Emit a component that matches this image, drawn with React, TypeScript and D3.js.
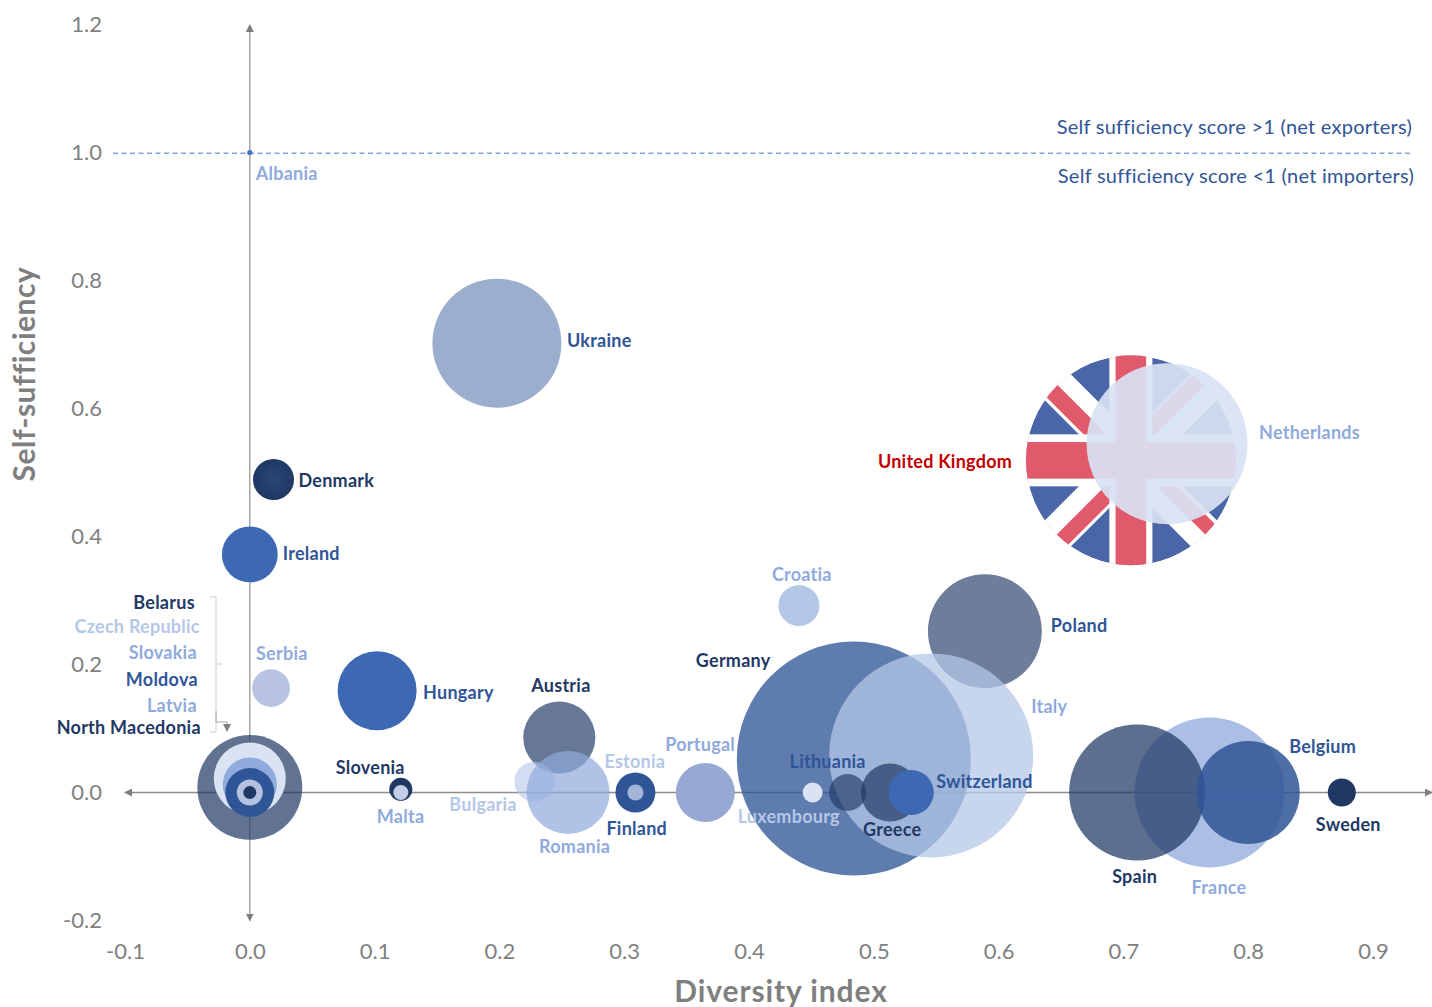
import React, { useEffect, useRef } from "react";
import * as d3 from "d3";

// Values, in drawing order (back to front)
const countries = [
  "Ukraine", "United Kingdom", "Netherlands", "Denmark", "Ireland", "Serbia", "Hungary", "Austria",
  "Croatia", "Poland", "Germany", "Italy", "Luxembourg", "Lithuania", "Greece", "Switzerland",
  "France", "Spain", "Belgium", "Sweden", "Portugal", "Finland", "Estonia", "Bulgaria", "Romania",
  "Slovenia", "Malta", "Belarus", "Czech Republic", "Slovakia", "Moldova", "Latvia", "North Macedonia", "Albania",
];
const diversity = [
  0.198, 0.706, 0.735, 0.019, 0, 0.017, 0.102, 0.248,
  0.44, 0.589, 0.484, 0.546, 0.451, 0.479, 0.513, 0.53,
  0.769, 0.711, 0.8, 0.875, 0.365, 0.309, 0.309, 0.228, 0.255,
  0.121, 0.121, 0, 0, 0, 0, 0, 0, 0,
];
const selfSufficiency = [
  0.702, 0.519, 0.545, 0.489, 0.372, 0.163, 0.159, 0.086,
  0.292, 0.252, 0.053, 0.058, 0, 0, 0, 0,
  0, 0, 0, 0, 0, 0, 0, 0.017, 0,
  0.005, 0, 0.008, 0.022, 0.0125, 0, 0, 0, 1,
];
const production = [
  30.4, 80.5, 47.3, 3.07, 5.7, 2.6, 11.4, 9.5,
  3.07, 23.7, 100, 76, 0.73, 2.5, 6.14, 3.7,
  41.1, 33.8, 19.4, 1.43, 6.36, 2.92, 0.47, 2.92, 12.6,
  0.97, 0.41, 20.1, 9.47, 5.33, 4.38, 1.23, 0.31, 0.05,
];
const xTicks = [-0.1, 0, 0.1, 0.2, 0.3, 0.4, 0.5, 0.6, 0.7, 0.8, 0.9];
const yTicks = [-0.2, 0, 0.2, 0.4, 0.6, 0.8, 1.0, 1.2];

const fills: Record<string, [string, number]> = {
  Ukraine: ["#2f5597", 0.476],
  Netherlands: ["#d8e2f3", 0.92],
  Denmark: ["url(#denmarkFill)", 1],
  Ireland: ["#3d68b3", 1],
  Serbia: ["#b7c3e0", 1],
  Hungary: ["#3d68b3", 1],
  Austria: ["#1f3864", 0.68],
  Croatia: ["#b4c7e7", 1],
  Poland: ["#1f3864", 0.65],
  Germany: ["#2f5597", 0.77],
  Italy: ["#b4c7e7", 0.75],
  Luxembourg: ["#dae3f3", 1],
  Lithuania: ["#1f3864", 0.65],
  Greece: ["#1f3864", 0.7],
  Switzerland: ["#3d68b3", 1],
  Spain: ["#1f3864", 0.72],
  France: ["#8faadc", 0.75],
  Belgium: ["#2f5597", 0.85],
  Sweden: ["#1f3864", 1],
  Portugal: ["#97a8d5", 1],
  Finland: ["#2f5597", 1],
  Estonia: ["#a4b6d8", 1],
  Bulgaria: ["#b4c7e7", 0.6],
  Romania: ["#8faadc", 0.7],
  Slovenia: ["#1f3864", 1],
  Malta: ["#c3cde6", 1],
  Belarus: ["#1f3864", 0.7],
  "Czech Republic": ["#dae3f3", 1],
  Slovakia: ["#8faadc", 1],
  Moldova: ["#2f5597", 1],
  Latvia: ["#b4c1e0", 1],
  "North Macedonia": ["#1f3864", 1],
  Albania: ["#4472c4", 1],
};

// label colour, then offset from the bubble centre
const labels: Record<string, [string, number, number, string?]> = {
  Ukraine: ["#2f5597", 70, 3],
  "United Kingdom": ["#c00000", -253, 7],
  Netherlands: ["#8faadc", 92, -6],
  Denmark: ["#1f3864", 25, 6],
  Ireland: ["#2f5597", 33, 5],
  Serbia: ["#8faadc", -15, -29],
  Hungary: ["#2f5597", 46, 7],
  Austria: ["#1f3864", -28, -46],
  Croatia: ["#8faadc", -27, -26],
  Poland: ["#2f5597", 66, 0],
  Germany: ["#1f3864", -158, -93],
  Italy: ["#8faadc", 100, -43],
  Luxembourg: ["#b4c7e7", -75, 29],
  Lithuania: ["#2f5597", -58, -26],
  Greece: ["#1f3864", -27, 42],
  Switzerland: ["#2f5597", 25, -6],
  France: ["#8faadc", -18, 100],
  Spain: ["#1f3864", -25, 89],
  Belgium: ["#2f5597", 41, -41],
  Sweden: ["#1f3864", -26, 37],
  Portugal: ["#8faadc", -40, -43],
  Finland: ["#2f5597", -29, 41],
  Estonia: ["#b4c7e7", -31, -26],
  Bulgaria: ["#b4c7e7", -85, 28],
  Romania: ["#8faadc", -29, 59],
  Slovenia: ["#1f3864", -65, -16],
  Malta: ["#8faadc", -24, 29],
  Belarus: ["#1f3864", -55, -179, "end"],
  "Czech Republic": ["#b4c7e7", -50, -146, "end"],
  Slovakia: ["#8faadc", -53, -127, "end"],
  Moldova: ["#2f5597", -52, -108, "end"],
  Latvia: ["#8faadc", -53, -82, "end"],
  "North Macedonia": ["#1f3864", -49, -60, "end"],
  Albania: ["#8faadc", 6, 26],
};

const x = d3.scaleLinear().domain([-0.1, 0.9]).range([125, 1373]);
const y = d3.scaleLinear().domain([-0.2, 1.2]).range([920.5, 24.5]);
const r = d3.scaleSqrt().domain([0, 100]).range([0, 117]);

const LABEL_FONT = "Lato, sans-serif";

const UnionJack: React.FC<{ cx: number; cy: number; radius: number }> = ({ cx, cy, radius }) => {
  const L = radius + 4;
  const blue = "#4b66a8";
  const red = "#e05a6b";
  return (
    <g transform={`translate(${cx},${cy})`}>
      <clipPath id="ukClip">
        <circle r={radius} />
      </clipPath>
      <g clipPath="url(#ukClip)">
        <circle r={radius} fill={blue} />
        <g transform="rotate(45)">
          <rect x={-L} y={-18.4} width={2 * L} height={36.8} fill="#fff" />
          <rect x={-L} y={-1.4} width={L} height={16.4} fill={red} />
          <rect x={0} y={-14.4} width={L} height={14.2} fill={red} />
        </g>
        <g transform="rotate(-45)">
          <rect x={-L} y={-18.4} width={2 * L} height={36.8} fill="#fff" />
          <rect x={0} y={-16.5} width={L} height={15.8} fill={red} />
          <rect x={-L} y={0} width={L} height={15.3} fill={red} />
        </g>
        <rect x={-21.5} y={-L} width={43} height={2 * L} fill="#fff" />
        <rect x={-L} y={-26} width={2 * L} height={52} fill="#fff" />
        <rect x={-15.3} y={-L} width={30.6} height={2 * L} fill={red} />
        <rect x={-L} y={-18.3} width={2 * L} height={36.6} fill={red} />
      </g>
    </g>
  );
};

export default function App() {
  const xAxisRef = useRef<SVGGElement | null>(null);
  const yAxisRef = useRef<SVGGElement | null>(null);

  useEffect(() => {
    if (xAxisRef.current && yAxisRef.current) {
      // the reference uses a plain hyphen for negative ticks
      const fmt = (d: any) => d3.format(".1f")(d).replace("\u2212", "-");
      const xAxis = d3.axisBottom(x).tickValues(xTicks).tickSize(0).tickPadding(0).tickFormat(fmt);
      const yAxis = d3.axisLeft(y).tickValues(yTicks).tickSize(0).tickPadding(0).tickFormat(fmt);
      for (const [ref, axis] of [[xAxisRef, xAxis], [yAxisRef, yAxis]] as any) {
        const g = d3.select(ref.current);
        g.call(axis);
        g.select(".domain").remove();
        g.selectAll("text")
          .attr("font-family", LABEL_FONT)
          .attr("font-size", 22)
          .attr("fill", "#7f7f7f");
      }
    }
  }, []);

  return (
    <svg
      width={1432}
      height={1007}
      style={{ position: "absolute", left: 0, top: 0, background: "#fff", overflow: "hidden" }}
    >
      <defs>
        <radialGradient id="denmarkFill">
          <stop offset="0" stopColor="#2b4677" />
          <stop offset="1" stopColor="#1f3864" />
        </radialGradient>
        <marker id="arrow" viewBox="0 0 8 8" refX="7" refY="4" markerWidth="8" markerHeight="8" orient="auto-start-reverse" markerUnits="userSpaceOnUse">
          <path d="M0,0 L8,4 L0,8 Z" fill="#7f7f7f" />
        </marker>
      </defs>

      <g ref={yAxisRef} transform="translate(102,0)" />
      <g ref={xAxisRef} transform="translate(0,943)" />

      {/* axes crossing at the origin */}
      <line x1={x(-0.1)} x2={1432} y1={y(0)} y2={y(0)} stroke="#8c8c8c" strokeWidth={1.5} markerStart="url(#arrow)" markerEnd="url(#arrow)" />
      <line x1={x(0)} x2={x(0)} y1={25} y2={y(-0.2)} stroke="#a6a6a6" strokeWidth={1.5} markerStart="url(#arrow)" markerEnd="url(#arrow)" />

      <line x1={113} x2={1410} y1={y(1) + 0.7} y2={y(1) + 0.7} stroke="#4472c4" strokeWidth={1} strokeDasharray="5 3.5" />

      {/* bracket grouping the origin labels */}
      <path d="M210,597 H216 V732 H210 M216,664 H222" fill="none" stroke="#cfcfcf" strokeWidth={1} />
      <path d="M216,711 V722 H227 V731" fill="none" stroke="#a6a6a6" strokeWidth={1} markerEnd="url(#arrow)" />

      {countries.map((name, i) =>
        name === "United Kingdom" ? (
          <UnionJack key={name} cx={x(diversity[i])} cy={y(selfSufficiency[i])} radius={r(production[i])} />
        ) : (
          <circle
            key={name}
            cx={x(diversity[i])}
            cy={y(selfSufficiency[i])}
            r={r(production[i])}
            fill={fills[name][0]}
            fillOpacity={fills[name][1]}
          />
        )
      )}

      {countries.map((name, i) => {
        const [color, dx, dy, anchor] = labels[name];
        return (
          <text
            key={name}
            x={x(diversity[i]) + dx}
            y={y(selfSufficiency[i]) + dy + 1}
            textAnchor={anchor || "start"}
            fontFamily={LABEL_FONT}
            fontWeight={700}
            fontSize={18}
            letterSpacing={0.25}
            fill={color}
          >
            {name}
          </text>
        );
      })}

      <text x={1412} y={134} textAnchor="end" fontFamily={LABEL_FONT} fontSize={20} letterSpacing={0.25} fill="#2f5597">
        Self sufficiency score &gt;1 (net exporters)
      </text>
      <text x={1414} y={183} textAnchor="end" fontFamily={LABEL_FONT} fontSize={20} letterSpacing={0.25} fill="#2f5597">
        Self sufficiency score &lt;1 (net importers)
      </text>

      <text
        transform="translate(35,374) rotate(-90)"
        textAnchor="middle"
        fontFamily={LABEL_FONT}
        fontWeight={700}
        fontSize={30}
        letterSpacing={0.55}
        fill="#7f7f7f"
      >
        Self-sufficiency
      </text>
      <text
        x={781}
        y={1002}
        textAnchor="middle"
        fontFamily={LABEL_FONT}
        fontWeight={700}
        fontSize={30}
        letterSpacing={0.9}
        fill="#7f7f7f"
      >
        Diversity index
      </text>
    </svg>
  );
}
